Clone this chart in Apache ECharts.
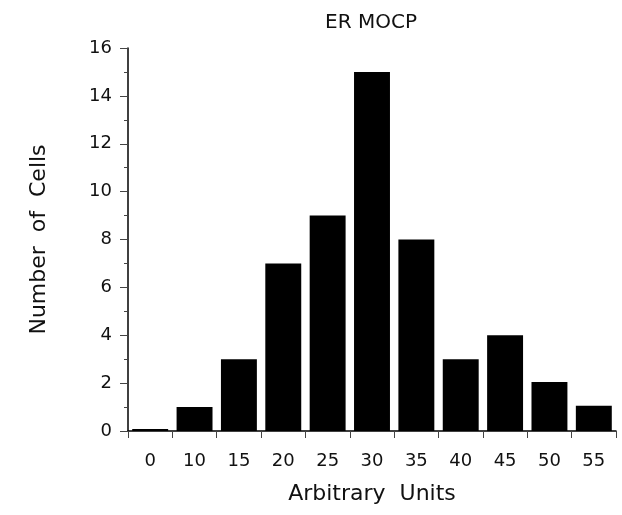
<!DOCTYPE html>
<html>
<head>
<meta charset="utf-8">
<script src="https://cdn.jsdelivr.net/npm/echarts@6/dist/echarts.min.js"></script>
<style>html,body{margin:0;padding:0;background:#fff}#chart{width:622px;height:515px}</style>
</head>
<body>
<div id="chart"></div>
<script>
var categories = ['0','10','15','20','25','30','35','40','45','50','55'];
var cellCounts = [0.08, 1, 3, 7, 9, 15, 8, 3, 4, 2.05, 1.05];
var titleText = 'ER MOCP';
var xName = 'Arbitrary  Units';
var yName = 'Number  of  Cells';

var FONT = 'DejaVu Sans';
var chart = echarts.init(document.getElementById('chart'), null, {renderer:'canvas'});
chart.setOption({
  animation: false,
  backgroundColor: '#fff',
  title: {
    text: titleText, left: 366, top: 8, textAlign: 'center',
    textStyle: {fontFamily: FONT, fontSize: 20, fontWeight: 'normal', color: '#111'}
  },
  grid: {left: 128, top: 48, right: 6, bottom: 84, containLabel: false},
  xAxis: {
    type: 'category', data: categories,
    name: xName, nameLocation: 'middle', nameGap: 52,
    nameTextStyle: {fontFamily: FONT, fontSize: 22, color: '#111'},
    axisLine: {lineStyle: {color: '#000', width: 1.5}},
    axisTick: {show: true, alignWithLabel: false, length: 7, lineStyle: {color: '#444'}},
    axisLabel: {fontFamily: FONT, fontSize: 18, color: '#111', margin: 21, interval: 0}
  },
  yAxis: {
    type: 'value', min: 0, max: 16, interval: 2,
    name: yName, nameLocation: 'middle', nameGap: 78,
    nameTextStyle: {fontFamily: FONT, fontSize: 22, color: '#111'},
    axisLine: {show: true, lineStyle: {color: '#000', width: 1.5}},
    axisTick: {show: true, length: 8, lineStyle: {color: '#444'}},
    minorTick: {show: true, splitNumber: 2, length: 4, lineStyle: {color: '#444'}},
    splitLine: {show: false},
    axisLabel: {fontFamily: FONT, fontSize: 18, color: '#111', margin: 16}
  },
  series: [{
    type: 'bar', data: cellCounts, barCategoryGap: '19%',
    itemStyle: {color: '#000'}
  }]
});
</script>
</body>
</html>
